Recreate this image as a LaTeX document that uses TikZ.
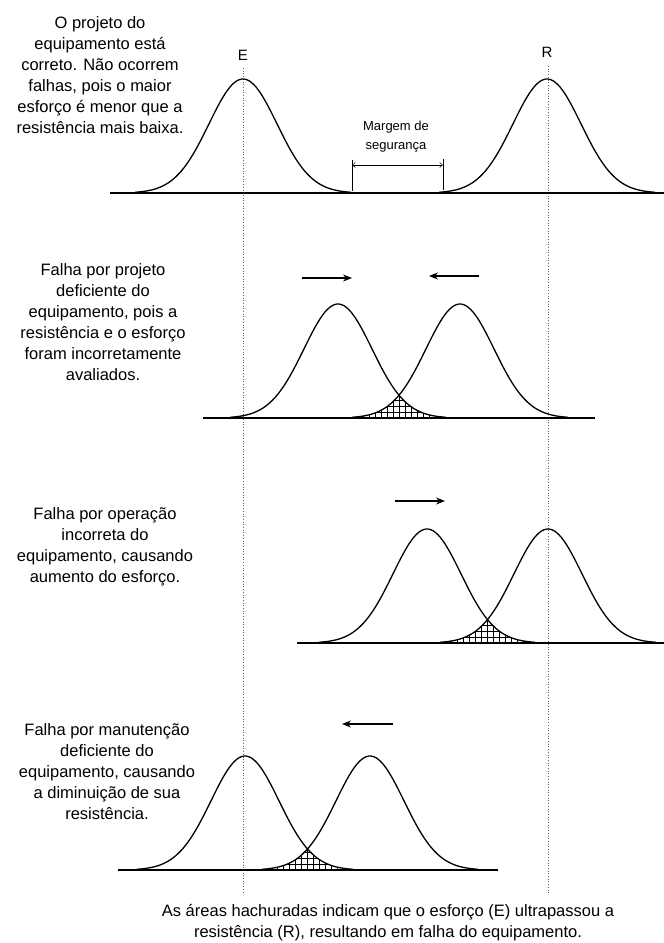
\documentclass[tikz,border=0pt]{standalone}
\usepackage{fontspec}
\setmainfont{Liberation Sans}
\usetikzlibrary{arrows.meta}
\begin{document}
\begin{tikzpicture}[x=1pt,y=-1pt,
  curve/.style={line width=1.3pt},
  baseline/.style={line width=1.4pt},
  guide/.style={line width=0.7pt, dotted, black!60},
  hatchline/.style={line width=0.45pt},
  shiftarrow/.style={line width=1.3pt, -{Stealth[length=9pt,width=7pt]}},
  caption/.style={align=center, font=\fontsize{16.5}{21}\selectfont, inner sep=0pt},
  letter/.style={font=\fontsize{15}{16}\selectfont, inner sep=0pt},
  smallcap/.style={align=center, font=\fontsize{13}{19}\selectfont, inner sep=0pt},
]
\useasboundingbox (0,0) rectangle (664,943);

% guide lines
\coordinate (Etop) at (243,68);
\coordinate (Ebot) at (243,893);
\coordinate (Rtop) at (548,66);
\coordinate (Rbot) at (548,893);
\draw[guide] (Etop) -- (Ebot);
\draw[guide] (Rtop) -- (Rbot);
\node[letter] (E) at (243,55) {E};
\node[letter] (R) at (547,52) {R};

% baselines
\draw[baseline] (110,193) -- (664,193);
\draw[baseline] (203,418) -- (595,418);
\draw[baseline] (297,643) -- (664,643);
\draw[baseline] (118,870) -- (498,870);

% bell curves
\foreach \m/\b in {243/193, 547/193, 338/418, 460/418, 427/643, 548/643, 245/870, 370/870}
  \draw[curve] plot[domain=\m-108:\m+108, samples=90, smooth] (\x,{\b-114*exp(-((\x-\m)^2)/2312)});

% hatched overlaps
\foreach \mA/\mB/\b in {338/460/418, 427/548/643, 245/370/870}{
  \pgfmathsetmacro{\xc}{(\mA+\mB)/2}
  \begin{scope}
    \clip plot[domain=\mB-108:\xc, samples=50, smooth] (\x,{\b-114*exp(-((\x-\mB)^2)/2312)})
       -- plot[domain=\xc:\mA+108, samples=50, smooth] (\x,{\b-114*exp(-((\x-\mA)^2)/2312)}) -- cycle;
    \foreach \k in {-15,...,15}
      \draw[hatchline] (\xc+6*\k,\b-40) -- (\xc+6*\k,\b);
    \foreach \k in {1,...,6}
      \draw[hatchline] (\xc-100,\b-6*\k) -- (\xc+100,\b-6*\k);
  \end{scope}
}

% margin of safety
\coordinate (mL) at (352,165);
\coordinate (mR) at (443,165);
\draw[line width=0.6pt] (352,160) -- (352,191);
\draw[line width=0.6pt] (443,159) -- (443,190);
\draw[line width=0.5pt, {Straight Barb[length=3pt,width=5pt]}-{Straight Barb[length=3pt,width=5pt]}] (mL) -- (mR);
\node[smallcap] (margem) at (396,137) {Margem de\\segurança};

% shift arrows
\coordinate (a1s) at (302,278); \coordinate (a1e) at (352,278);
\coordinate (a2s) at (479,276); \coordinate (a2e) at (429,276);
\coordinate (a3s) at (395,501); \coordinate (a3e) at (445,501);
\coordinate (a4s) at (393,724); \coordinate (a4e) at (342,724);
\draw[shiftarrow] (a1s) -- (a1e);
\draw[shiftarrow] (a2s) -- (a2e);
\draw[shiftarrow] (a3s) -- (a3e);
\draw[shiftarrow] (a4s) -- (a4e);

% texts
\node[caption] (t1) at (100,75) {O projeto do\\equipamento está\\correto. Não ocorrem\\falhas, pois o maior\\esforço é menor que a\\resistência mais baixa.};
\node[caption] (t2) at (103,322) {Falha por projeto\\deficiente do\\equipamento, pois a\\resistência e o esforço\\foram incorretamente\\avaliados.};
\node[caption] (t3) at (105,547) {Falha por operação\\incorreta do\\equipamento, causando\\aumento do esforço.};
\node[caption] (t4) at (107,772) {Falha por manutenção\\deficiente do\\equipamento, causando\\a diminuição de sua\\resistência.};
\node[caption] (t5) at (388,923) {As áreas hachuradas indicam que o esforço (E) ultrapassou a\\resistência (R), resultando em falha do equipamento.};
\end{tikzpicture}
\end{document}
